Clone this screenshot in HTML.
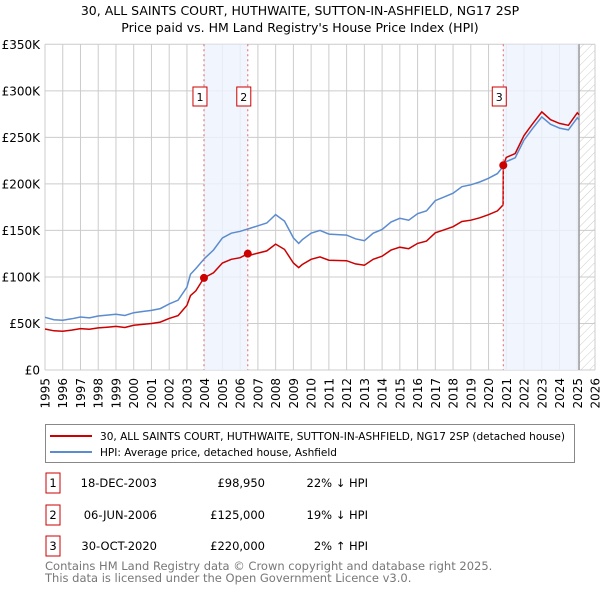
<!DOCTYPE html>
<html><head><meta charset="utf-8"><style>
body{margin:0;background:#fff;font-family:"DejaVu Sans","Liberation Sans",sans-serif;}
svg text{font-family:"DejaVu Sans","Liberation Sans",sans-serif;}
</style></head><body>
<svg id="chart" width="600" height="590" xmlns="http://www.w3.org/2000/svg">
<defs><pattern id="hatch" width="6" height="6" patternUnits="userSpaceOnUse" patternTransform="rotate(45)"><line x1="0" y1="0" x2="0" y2="6" stroke="#ccc" stroke-width="1"/></pattern></defs>
<text x="300" y="15" text-anchor="middle" font-size="12.5">30, ALL SAINTS COURT, HUTHWAITE, SUTTON-IN-ASHFIELD, NG17 2SP</text>
<text x="300" y="32" text-anchor="middle" font-size="12.5">Price paid vs. HM Land Registry's House Price Index (HPI)</text>
<g id="grid"></g><g id="shades"></g><g id="lines"></g><g id="marks"></g><g id="axes"></g>
<g>
<rect x="45.5" y="424.5" width="529" height="38" fill="#fff" stroke="#888"/>
<line x1="50" y1="436" x2="92" y2="436" stroke="#cc0000" stroke-width="2"/>
<text x="100" y="440" font-size="11" textLength="465" lengthAdjust="spacingAndGlyphs">30, ALL SAINTS COURT, HUTHWAITE, SUTTON-IN-ASHFIELD, NG17 2SP (detached house)</text>
<line x1="50" y1="452" x2="92" y2="452" stroke="#5b8ccf" stroke-width="2"/>
<text x="100" y="456" font-size="11" textLength="237" lengthAdjust="spacingAndGlyphs">HPI: Average price, detached house, Ashfield</text>
</g>
<g font-size="11.5">
<rect x="46" y="473" width="14" height="20" fill="#fff" stroke="#cc0000"/><text x="53" y="487" text-anchor="middle">1</text>
<text x="157" y="487" text-anchor="end">18-DEC-2003</text>
<text x="265" y="487" text-anchor="end">£98,950</text>
<text x="368" y="487" text-anchor="end">22% ↓ HPI</text>
<rect x="46" y="505" width="14" height="20" fill="#fff" stroke="#cc0000"/><text x="53" y="519" text-anchor="middle">2</text>
<text x="157" y="519" text-anchor="end">06-JUN-2006</text>
<text x="265" y="519" text-anchor="end">£125,000</text>
<text x="368" y="519" text-anchor="end">19% ↓ HPI</text>
<rect x="46" y="536" width="14" height="20" fill="#fff" stroke="#cc0000"/><text x="53" y="550" text-anchor="middle">3</text>
<text x="157" y="550" text-anchor="end">30-OCT-2020</text>
<text x="265" y="550" text-anchor="end">£220,000</text>
<text x="368" y="550" text-anchor="end">2% ↑ HPI</text>
</g>
<text x="45" y="570" font-size="11.5" fill="#777">Contains HM Land Registry data © Crown copyright and database right 2025.</text>
<text x="45" y="582" font-size="11.5" fill="#777">This data is licensed under the Open Government Licence v3.0.</text>
</svg>
<script>
const yTicks=[0,50000,100000,150000,200000,250000,300000,350000];
const yTickLabels=["£0","£50K","£100K","£150K","£200K","£250K","£300K","£350K"];
const years=[1995,1996,1997,1998,1999,2000,2001,2002,2003,2004,2005,2006,2007,2008,2009,2010,2011,2012,2013,2014,2015,2016,2017,2018,2019,2020,2021,2022,2023,2024,2025,2026];
const hpiDates=[1995,1995.5,1996,1996.5,1997,1997.5,1998,1998.5,1999,1999.5,2000,2000.5,2001,2001.5,2002,2002.5,2003,2003.2,2003.5,2004,2004.5,2005,2005.5,2006,2006.5,2007,2007.5,2008,2008.5,2009,2009.3,2009.5,2010,2010.5,2011,2012,2012.5,2013,2013.5,2014,2014.5,2015,2015.5,2016,2016.5,2017,2017.5,2018,2018.5,2019,2019.5,2020,2020.5,2020.83,2021,2021.5,2022,2022.5,2023,2023.5,2024,2024.5,2025,2025.1];
const hpiValues=[56.6,54,53.5,55,57,56,58,59,60,58.6,61.6,62.9,64,66,71,75,89,103,109,120,129,142,147,149,152,155,158,167,160,142,136,140,147,150,146,145,141,139,147,151,159,163,161,168,171,182,186,190,197,199,202,206,211,219,224,228,247,260,272,264,260,258,271,269];
const priceDates=[1995,1995.5,1996,1996.5,1997,1997.5,1998,1998.5,1999,1999.5,2000,2000.5,2001,2001.5,2002,2002.5,2003,2003.2,2003.5,2003.96,2004.5,2005,2005.5,2006,2006.43,2006.5,2007,2007.5,2008,2008.5,2009,2009.3,2009.5,2010,2010.5,2011,2012,2012.5,2013,2013.5,2014,2014.5,2015,2015.5,2016,2016.5,2017,2017.5,2018,2018.5,2019,2019.5,2020,2020.5,2020.82,2020.83,2021,2021.5,2022,2022.5,2023,2023.5,2024,2024.5,2025,2025.1];
const priceValues=[44.1,42.1,41.7,42.9,44.5,43.7,45.2,46,46.8,45.7,48,49,50,51.5,55.4,58.5,69.4,80,85,98.95,104.5,115,119,120.7,125,123,125.6,128,135.3,129.6,115,110,113.4,119,121.5,118,117.5,114,112.6,119,122.3,128.8,132,130.4,136,138.5,147.4,150.7,154,159.6,161,163.6,166.9,171,177.4,220,228.5,232.6,252,265,277.4,269,265,263,276.4,274.4];
const saleDates=[2003.96,2006.43,2020.83];
const saleValues=[98950,125000,220000];
const saleLabels=["1","2","3"];

const NS="http://www.w3.org/2000/svg";
const X0=45,X1=595,Y0=370,Y1=44.3;
const xs=d=>X0+(d-1995)/(2026-1995)*(X1-X0);
const ys=v=>Y0-v/350000*(Y0-Y1);
function mk(tag,attrs,parent){const e=document.createElementNS(NS,tag);for(const k in attrs)e.setAttribute(k,attrs[k]);parent.appendChild(e);return e;}
const grid=document.getElementById('grid'),shades=document.getElementById('shades'),lines=document.getElementById('lines'),marks=document.getElementById('marks'),axes=document.getElementById('axes');
years.forEach(y=>{const l=mk('line',{x1:xs(y),x2:xs(y),y1:Y1,y2:Y0,stroke:'#ccc'},grid);


const t=mk('text',{transform:`translate(${xs(y)+4.5},${Y0+8}) rotate(-90)`,'text-anchor':'end','font-size':'12'},axes);t.textContent=y;

});
yTicks.forEach((v,i)=>{const l=mk('line',{x1:X0,x2:X1,y1:ys(v),y2:ys(v),stroke:'#ccc'},grid);


const t=mk('text',{x:X0-5,y:ys(v)+4.5,'text-anchor':'end','font-size':'12'},axes);t.textContent=yTickLabels[i];

});
const s1=mk('rect',{x:xs(saleDates[0]),y:Y1,width:xs(saleDates[1])-xs(saleDates[0]),height:Y0-Y1,fill:'#eef3fc',opacity:0.8},shades);


const s2=mk('rect',{x:xs(saleDates[2]),y:Y1,width:xs(2025.1)-xs(saleDates[2]),height:Y0-Y1,fill:'#eef3fc',opacity:0.8},shades);


const h=mk('rect',{x:xs(2025.1),y:Y1,width:X1-xs(2025.1),height:Y0-Y1,fill:'url(#hatch)'},shades);


const fl=mk('line',{x1:xs(2025.1),x2:xs(2025.1),y1:Y1,y2:Y0,stroke:'#999','stroke-width':1.5},shades);


function path(dates,vals,k){return dates.map((d,i)=>(i?'L':'M')+xs(d).toFixed(1)+','+ys(vals[i]*k).toFixed(1)).join('');}
const hp=mk('path',{d:path(hpiDates,hpiValues,1000),fill:'none',stroke:'#5b8ccf','stroke-width':1.5},lines);


const pp=mk('path',{d:path(priceDates,priceValues,1000),fill:'none',stroke:'#cc0000','stroke-width':1.5},lines);


saleDates.forEach((d,i)=>{const x=xs(d);
const vl=mk('line',{x1:x,x2:x,y1:Y1,y2:Y0,stroke:'#e06666','stroke-dasharray':'2,3'},marks);


const c=mk('circle',{cx:x,cy:ys(saleValues[i]),r:4,fill:'#cc0000'},marks);


const b=mk('rect',{x:x-11,y:87,width:14,height:19,fill:'#fff',stroke:'#cc0000'},marks);


const t=mk('text',{x:x-4,y:101,'text-anchor':'middle','font-size':'11'},marks);t.textContent=saleLabels[i];

});
</script>
</body></html>
